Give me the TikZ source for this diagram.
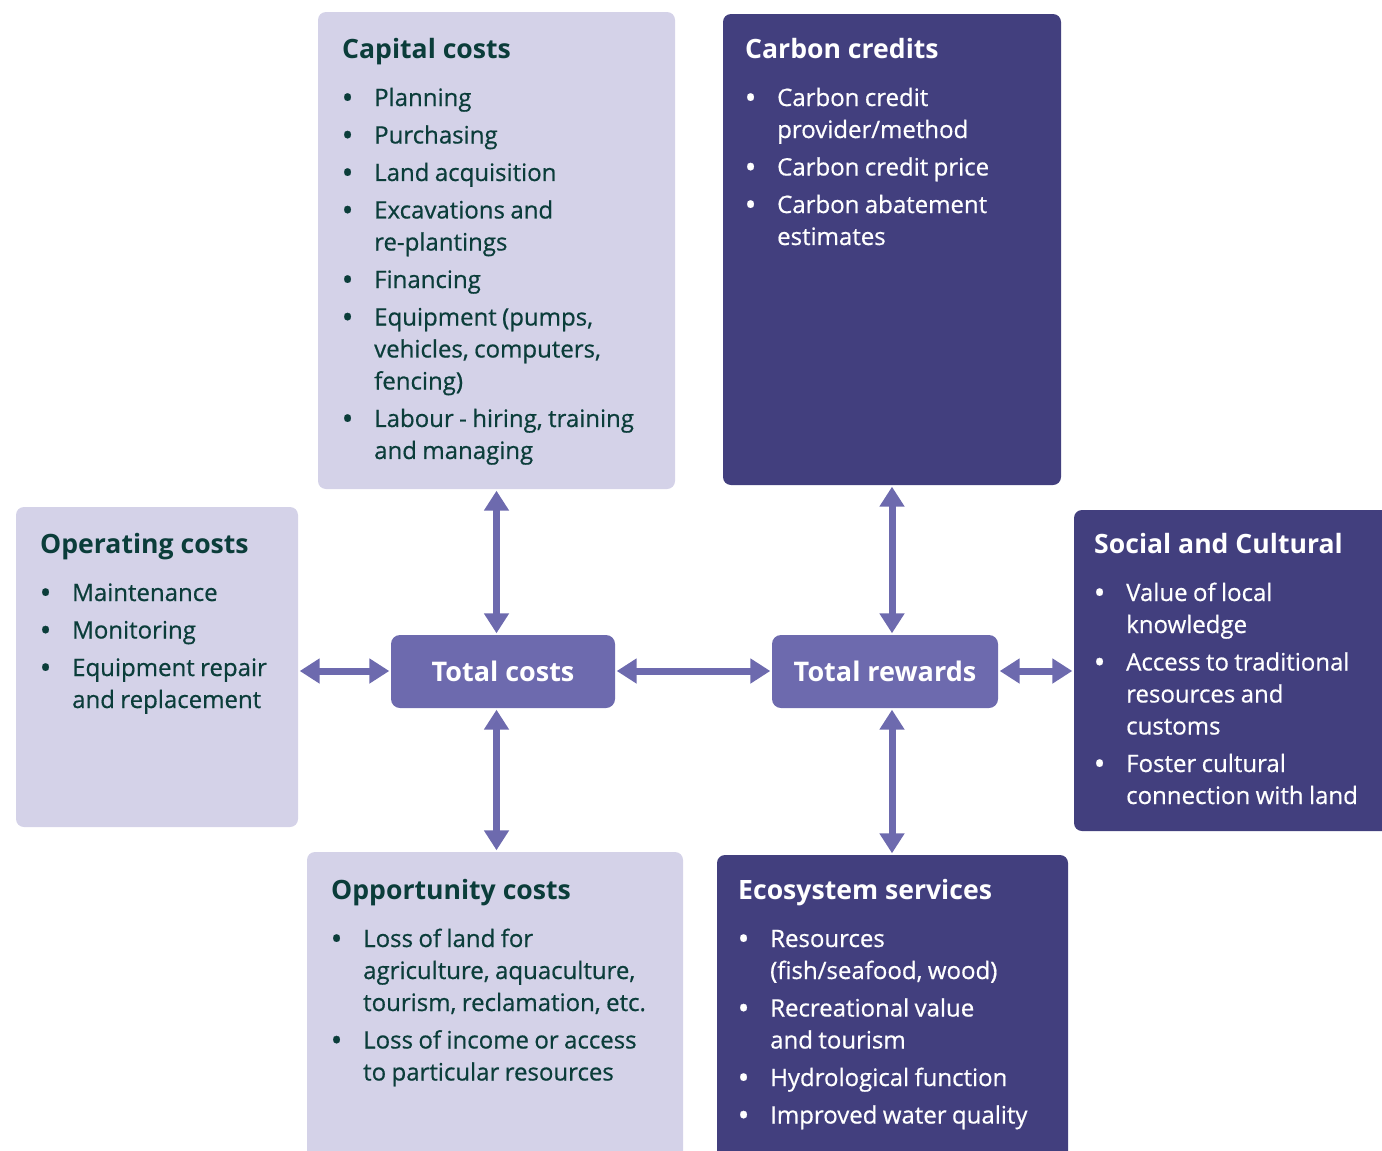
\documentclass[tikz,border=0pt]{standalone}
\usepackage{fontspec}
\setmainfont{Open Sans}
\newfontfamily\bodyfont{Open Sans}[FakeBold=0.6]
\usetikzlibrary{arrows.meta}
\definecolor{lightbox}{HTML}{D4D2E8}
\definecolor{darkbox}{HTML}{423F7E}
\definecolor{midbox}{HTML}{6D6AAE}
\definecolor{tealtext}{HTML}{0B3D3A}
\newcommand{\bodysetup}{\setlength{\parskip}{5.5pt}\setlength{\spaceskip}{5.4pt plus 1pt minus 0.5pt}}
\newcommand{\boxtitle}[1]{\noindent{\normalfont\bfseries\fontsize{26.6}{32}\selectfont\setlength{\spaceskip}{0pt}#1\par}\vspace{10.5pt}}
\newcommand{\bitem}[1]{\par\noindent\hangindent=32pt\hangafter=1\makebox[32pt][l]{\hspace{-0.5pt}\raisebox{-2.5pt}{\scalebox{1.3}{\textbullet}}}#1\par}
\begin{document}
\begin{tikzpicture}[x=1pt,y=-1pt,
  lbox/.style={fill=lightbox,rounded corners=8pt,inner sep=0pt},
  dbox/.style={fill=darkbox,rounded corners=8pt,inner sep=0pt},
  midnode/.style={fill=midbox,rounded corners=9pt,inner sep=0pt,text=white,
    font=\bfseries\fontsize{27}{32}\selectfont,minimum width=224pt,minimum height=73pt},
  txt/.style={anchor=base west,inner sep=0pt,text width=420pt,align=left,
    font=\bodyfont\fontsize{24}{32}\selectfont},
  dbl/.style={{Triangle[width=24pt,length=20pt]}-{Triangle[width=24pt,length=20pt]},
    line width=7pt,draw=midbox,shorten <=1.5pt,shorten >=1.5pt}]
\useasboundingbox (0,0) rectangle (1382,1151);
\clip (0,0) rectangle (1382,1151);
% boxes
\node[lbox,minimum width=357pt,minimum height=477pt] (cap) at (496.5,250.5) {};
\node[dbox,minimum width=338pt,minimum height=471pt] (carb) at (892,249.5) {};
\node[lbox,minimum width=282pt,minimum height=320pt] (op) at (157,667) {};
\node[dbox,minimum width=318pt,minimum height=321pt] (soc) at (1233,670.5) {};
\node[lbox,minimum width=376pt,minimum height=313pt] (opp) at (495,1008.5) {};
\node[dbox,minimum width=351pt,minimum height=310pt] (eco) at (892.5,1010) {};
\node[midnode] (tc) at (503,671.5) {Total costs};
\node[midnode,minimum width=226pt] (tr) at (885,671.5) {Total rewards};
% texts
\node[txt,text=tealtext] (capT) at (342,58) {\bodysetup\boxtitle{Capital costs}%
\bitem{Planning}\bitem{Purchasing}\bitem{Land acquisition}%
\bitem{Excavations and\newline re-plantings}\bitem{Financing}%
\bitem{Equipment (pumps,\newline vehicles, computers,\newline fencing)}%
\bitem{Labour - hiring, training\newline and managing}};
\node[txt,text=white] (carbT) at (745,58) {\bodysetup\boxtitle{Carbon credits}%
\bitem{Carbon credit\newline provider/method}\bitem{Carbon credit price}%
\bitem{Carbon abatement\newline estimates}};
\node[txt,text=tealtext] (opT) at (40,553) {\bodysetup\boxtitle{Operating costs}%
\bitem{Maintenance}\bitem{Monitoring}%
\bitem{Equipment repair\newline and replacement}};
\node[txt,text=white] (socT) at (1094,553) {\bodysetup\boxtitle{Social and Cultural}%
\bitem{Value of local\newline knowledge}%
\bitem{Access to traditional\newline resources and\newline customs}%
\bitem{Foster cultural\newline connection with land}};
\node[txt,text=tealtext] (oppT) at (331,899) {\bodysetup\boxtitle{Opportunity costs}%
\bitem{Loss of land for\newline agriculture, aquaculture,\newline tourism, reclamation, etc.}%
\bitem{Loss of income or access\newline to particular resources}};
\node[txt,text=white] (ecoT) at (738,899) {\bodysetup\boxtitle{Ecosystem services}%
\bitem{Resources\newline (fish/seafood, wood)}%
\bitem{Recreational value\newline and tourism}%
\bitem{Hydrological function}\bitem{Improved water quality}};
% arrows
\coordinate (axa) at (496.5,0);
\coordinate (axb) at (892,0);
\coordinate (ay) at (0,671);
\draw[dbl] (cap.south -| axa) -- (tc.north -| axa);
\draw[dbl] (tc.south -| axa) -- (opp.north -| axa);
\draw[dbl] (carb.south -| axb) -- (tr.north -| axb);
\draw[dbl] (tr.south -| axb) -- (eco.north -| axb);
\draw[dbl] (op.east |- ay) -- (tc.west |- ay);
\draw[dbl] (tc.east |- ay) -- (tr.west |- ay);
\draw[dbl] (tr.east |- ay) -- (soc.west |- ay);
\end{tikzpicture}
\end{document}
